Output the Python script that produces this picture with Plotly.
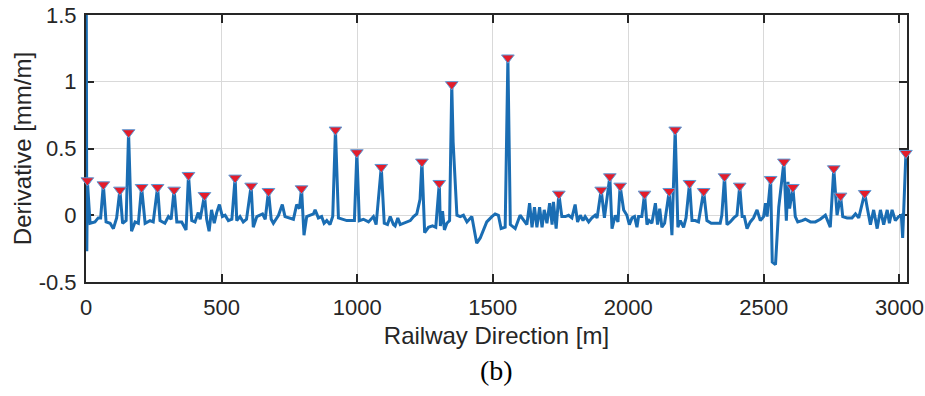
import plotly.graph_objects as go

# Derivative profile along the track: ordinary samples (distance in m, derivative in mm/m)
base_x = [1, 3, 15, 33, 45, 54, 74, 89, 101, 113, 135, 148, 168, 181, 193, 218, 236, 248,
          273, 291, 304, 314, 335, 353, 369, 390, 402, 414, 421, 445, 454, 463, 473, 482,
          492, 503, 513, 525, 538, 556, 568, 580, 592, 617, 630, 642, 651, 661, 683, 691,
          710, 724, 734, 753, 765, 777, 787, 804, 814, 827, 839, 845, 857, 869, 878, 888,
          900, 910, 931, 962, 990, 1008, 1023, 1042, 1060, 1070, 1100, 1112, 1122, 1134,
          1140, 1150, 1159, 1171, 1183, 1196, 1208, 1220, 1232, 1249, 1263, 1278, 1290,
          1307, 1315, 1322, 1331, 1341, 1354, 1368, 1380, 1392, 1405, 1423, 1441, 1454,
          1466, 1478, 1497, 1509, 1521, 1531, 1546, 1565, 1583, 1601, 1616, 1626, 1636,
          1645, 1654, 1663, 1673, 1682, 1690, 1700, 1710, 1719, 1724, 1734, 1755, 1768,
          1780, 1792, 1804, 1813, 1823, 1833, 1841, 1854, 1866, 1878, 1885, 1912, 1940,
          1952, 1962, 1983, 1995, 2004, 2014, 2023, 2032, 2038, 2050, 2069, 2077, 2087,
          2100, 2108, 2116, 2124, 2134, 2161, 2183, 2192, 2204, 2213, 2235, 2247, 2259,
          2290, 2306, 2321, 2339, 2345, 2364, 2376, 2389, 2401, 2420, 2428, 2438, 2450,
          2462, 2475, 2487, 2499, 2506, 2512, 2531, 2543, 2555, 2583, 2589, 2595, 2616,
          2625, 2641, 2653, 2672, 2690, 2708, 2727, 2745, 2770, 2791, 2807, 2825, 2838,
          2850, 2881, 2893, 2905, 2918, 2930, 2942, 2955, 2963, 2973, 2985, 2997, 3007,
          3012]
base_y = [1.6, -0.27, -0.06, -0.05, -0.02, -0.02, -0.05, -0.06, -0.10, -0.02, -0.06, -0.04,
          -0.12, -0.05, -0.06, -0.06, -0.04, -0.05, -0.04, -0.06, -0.01, -0.03, -0.05, -0.05,
          -0.11, -0.04, -0.05, 0.02, -0.03, -0.03, -0.12, 0.04, -0.06, 0.02, 0.08, -0.01,
          0.0, -0.04, -0.03, -0.04, -0.01, -0.05, -0.03, -0.09, -0.01, 0.0, 0.01, -0.03,
          -0.03, -0.06, 0.0, 0.08, -0.01, -0.02, -0.03, 0.08, 0.05, -0.15, -0.01, 0.0,
          0.01, 0.04, -0.02, -0.01, -0.06, -0.04, -0.07, -0.01, -0.02, -0.04, -0.04, -0.04,
          -0.03, -0.05, -0.01, -0.07, -0.06, -0.07, -0.01, -0.07, -0.08, -0.02, -0.07,
          -0.06, -0.05, -0.04, -0.01, 0.01, 0.12, -0.13, -0.09, -0.08, -0.09, -0.08, 0.03,
          -0.11, -0.06, -0.04, 0.55, 0.0, -0.01, 0.0, -0.05, -0.01, -0.21, -0.17, -0.11,
          -0.05, -0.01, 0.01, 0.0, -0.10, -0.09, -0.07, -0.10, 0.0, -0.04, -0.07, 0.09,
          -0.09, 0.06, -0.09, 0.06, -0.09, 0.04, -0.06, 0.09, -0.07, 0.10, -0.10, -0.01,
          -0.01, 0.0, -0.02, 0.08, -0.05, 0.0, -0.04, -0.01, -0.05, -0.02, 0.0, -0.02,
          -0.02, -0.10, 0.0, -0.05, 0.04, 0.0, -0.07, -0.02, -0.01, -0.09, -0.01, -0.01,
          -0.07, -0.04, -0.06, 0.09, -0.07, 0.05, -0.09, -0.06, -0.15, -0.09, -0.04, -0.09,
          -0.02, -0.04, -0.04, -0.05, -0.04, -0.06, -0.06, -0.06, 0.0, -0.07, -0.05, -0.02,
          0.0, -0.01, -0.01, -0.10, -0.05, -0.02, 0.04, -0.04, -0.01, 0.09, -0.01, -0.35,
          -0.37, 0.06, -0.04, 0.25, 0.05, -0.01, -0.05, -0.04, -0.03, -0.05, -0.05, -0.03,
          0.0, -0.09, 0.0, -0.01, -0.02, -0.02, 0.01, -0.02, 0.06, -0.07, 0.04, -0.10,
          0.04, -0.07, 0.04, -0.06, 0.04, -0.04, -0.01, 0.0, -0.17]

# Detected local peaks
peak_x = [5, 64, 125, 157, 205, 264, 325, 378, 437, 550, 609, 673, 795, 920, 999, 1089,
          1239, 1303, 1349, 1556, 1744, 1900, 1932, 1970, 2060, 2151, 2173, 2226, 2278,
          2355, 2411, 2525, 2574, 2607, 2758, 2783, 2872, 3024]
peak_y = [0.26, 0.23, 0.19, 0.62, 0.21, 0.21, 0.19, 0.30, 0.15, 0.28, 0.22, 0.18, 0.20,
          0.64, 0.47, 0.36, 0.40, 0.24, 0.98, 1.18, 0.16, 0.19, 0.29, 0.22, 0.16, 0.18,
          0.64, 0.24, 0.18, 0.29, 0.22, 0.27, 0.40, 0.21, 0.35, 0.145, 0.165, 0.465]

x_ticks = [0, 500, 1000, 1500, 2000, 2500, 3000]
y_ticks = [-0.5, 0, 0.5, 1, 1.5]
y_tick_text = ["-0.5", "0", "0.5", "1", "1.5"]

pts = sorted(zip(base_x + peak_x, base_y + peak_y))
line_x = [p[0] for p in pts]
line_y = [p[1] for p in pts]

LINE_BLUE = "#1a6db3"
AX = "#262626"
SANS = "Liberation Sans, Arial, sans-serif"

fig = go.Figure()
fig.add_trace(go.Scatter(x=line_x, y=line_y, mode="lines",
                         line=dict(color=LINE_BLUE, width=3), showlegend=False,
                         hoverinfo="skip"))
fig.add_trace(go.Scatter(x=peak_x, y=peak_y, mode="markers",
                         marker=dict(symbol="triangle-down", size=11, color="#e31d2b",
                                     line=dict(color="#5c9ad6", width=1)),
                         cliponaxis=False, showlegend=False))

axis_common = dict(showline=True, linecolor=AX, linewidth=2, mirror="ticks",
                   ticks="inside", ticklen=8, tickwidth=1.5, tickcolor=AX,
                   showgrid=True, gridcolor="#d9d9d9", gridwidth=1, zeroline=False,
                   automargin=False,
                   tickfont=dict(family=SANS, size=22, color=AX), layer="below traces")

fig.update_xaxes(range=[0, 3028], tickvals=x_ticks, ticklabelstandoff=5,
                 title=dict(text="Railway Direction [m]", standoff=8,
                            font=dict(family=SANS, size=24, color=AX)),
                 **axis_common)
fig.update_yaxes(range=[-0.5, 1.5], tickvals=y_ticks, ticktext=y_tick_text,
                 ticklabelstandoff=3,
                 title=dict(text="Derivative [mm/m]", standoff=0,
                            font=dict(family=SANS, size=24, color=AX)),
                 **axis_common)

fig.add_annotation(text="(b)", xref="paper", yref="paper", x=0.5, y=-0.33,
                   xanchor="center", yanchor="middle", showarrow=False,
                   font=dict(family="Liberation Serif, Times New Roman, serif", size=28,
                             color="#000000"))

fig.update_layout(width=925, height=396, margin=dict(l=86, r=18, t=15, b=114),
                  paper_bgcolor="white", plot_bgcolor="white")

fig.write_html("out.html")
